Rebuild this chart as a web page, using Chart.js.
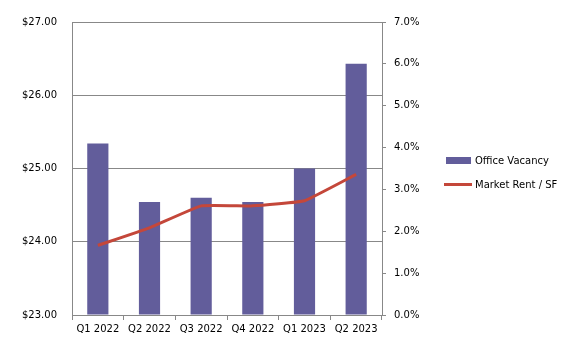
<!DOCTYPE html>
<html>
<head>
<meta charset="utf-8">
<script src="https://cdn.jsdelivr.net/npm/chart.js@4/dist/chart.umd.min.js"></script>
<style>
  html, body { margin: 0; padding: 0; background: #fff; }
</style>
</head>
<body>
<canvas id="chart" width="579" height="346"></canvas>
<script>
const quarters = ['Q1 2022', 'Q2 2022', 'Q3 2022', 'Q4 2022', 'Q1 2023', 'Q2 2023'];
const officeVacancy = [4.1, 2.7, 2.8, 2.7, 3.5, 6.0];      // percent, right axis
const marketRent = [23.95, 24.19, 24.49, 24.49, 24.56, 24.92]; // $ per SF, left axis
const rentRange = [23, 27];
const vacancyRange = [0, 7];

const barColor = '#625D9B';
const lineColor = '#C4473A';
const gridColor = '#888888';
const font = { family: 'DejaVu Sans', size: 10 };

// legend drawn by hand to sit where the reference has it
const sideLegend = {
    id: 'sideLegend',
    afterDraw(chart) {
        const ctx = chart.ctx;
        ctx.save();
        ctx.font = '10px "DejaVu Sans"';
        ctx.fillStyle = '#000';
        ctx.textBaseline = 'middle';
        ctx.textAlign = 'left';

        ctx.fillStyle = barColor;
        ctx.fillRect(446, 157, 25, 7);
        ctx.fillStyle = '#000';
        ctx.fillText(chart.data.datasets[1].label, 475, 161);

        ctx.strokeStyle = lineColor;
        ctx.lineWidth = 3;
        ctx.beginPath();
        ctx.moveTo(444, 184.5);
        ctx.lineTo(472, 184.5);
        ctx.stroke();
        ctx.fillText(chart.data.datasets[0].label, 475, 185);
        ctx.restore();
    }
};

new Chart(document.getElementById('chart'), {
    data: {
        labels: quarters,
        datasets: [
            {
                type: 'line',
                label: 'Market Rent / SF',
                data: marketRent,
                yAxisID: 'y',
                borderColor: lineColor,
                borderWidth: 3,
                pointRadius: 0,
                tension: 0.1,
                order: 0
            },
            {
                type: 'bar',
                label: 'Office Vacancy',
                data: officeVacancy,
                yAxisID: 'y1',
                backgroundColor: barColor,
                barPercentage: 0.41,
                categoryPercentage: 1.0,
                order: 1
            }
        ]
    },
    options: {
        responsive: false,
        animation: false,
        layout: { padding: { top: 22, right: 147, bottom: 0, left: 0 } },
        plugins: {
            legend: { display: false },
            tooltip: { enabled: false }
        },
        scales: {
            x: {
                offset: true,
                grid: { offset: true, drawOnChartArea: false, drawTicks: true, tickLength: 5, color: gridColor },
                border: { color: gridColor },
                ticks: { color: '#000', font: font, padding: 3, maxRotation: 0 },
                afterFit: s => { s.height = 31; }
            },
            y: {
                position: 'left',
                min: rentRange[0],
                max: rentRange[1],
                grid: { color: gridColor, drawTicks: false },
                border: { color: gridColor },
                ticks: {
                    stepSize: 1,
                    color: '#000',
                    font: font,
                    padding: 15,
                    callback: v => '$' + v.toFixed(2)
                },
                afterFit: s => { s.width = 72; }
            },
            y1: {
                position: 'right',
                min: vacancyRange[0],
                max: vacancyRange[1],
                grid: { drawOnChartArea: false, tickLength: 4, color: gridColor },
                border: { color: gridColor },
                ticks: {
                    stepSize: 1,
                    color: '#000',
                    font: font,
                    padding: 8,
                    callback: v => v.toFixed(1) + '%'
                },
                afterFit: s => { s.width = 50; }
            }
        }
    },
    plugins: [sideLegend]
});
</script>
</body>
</html>
